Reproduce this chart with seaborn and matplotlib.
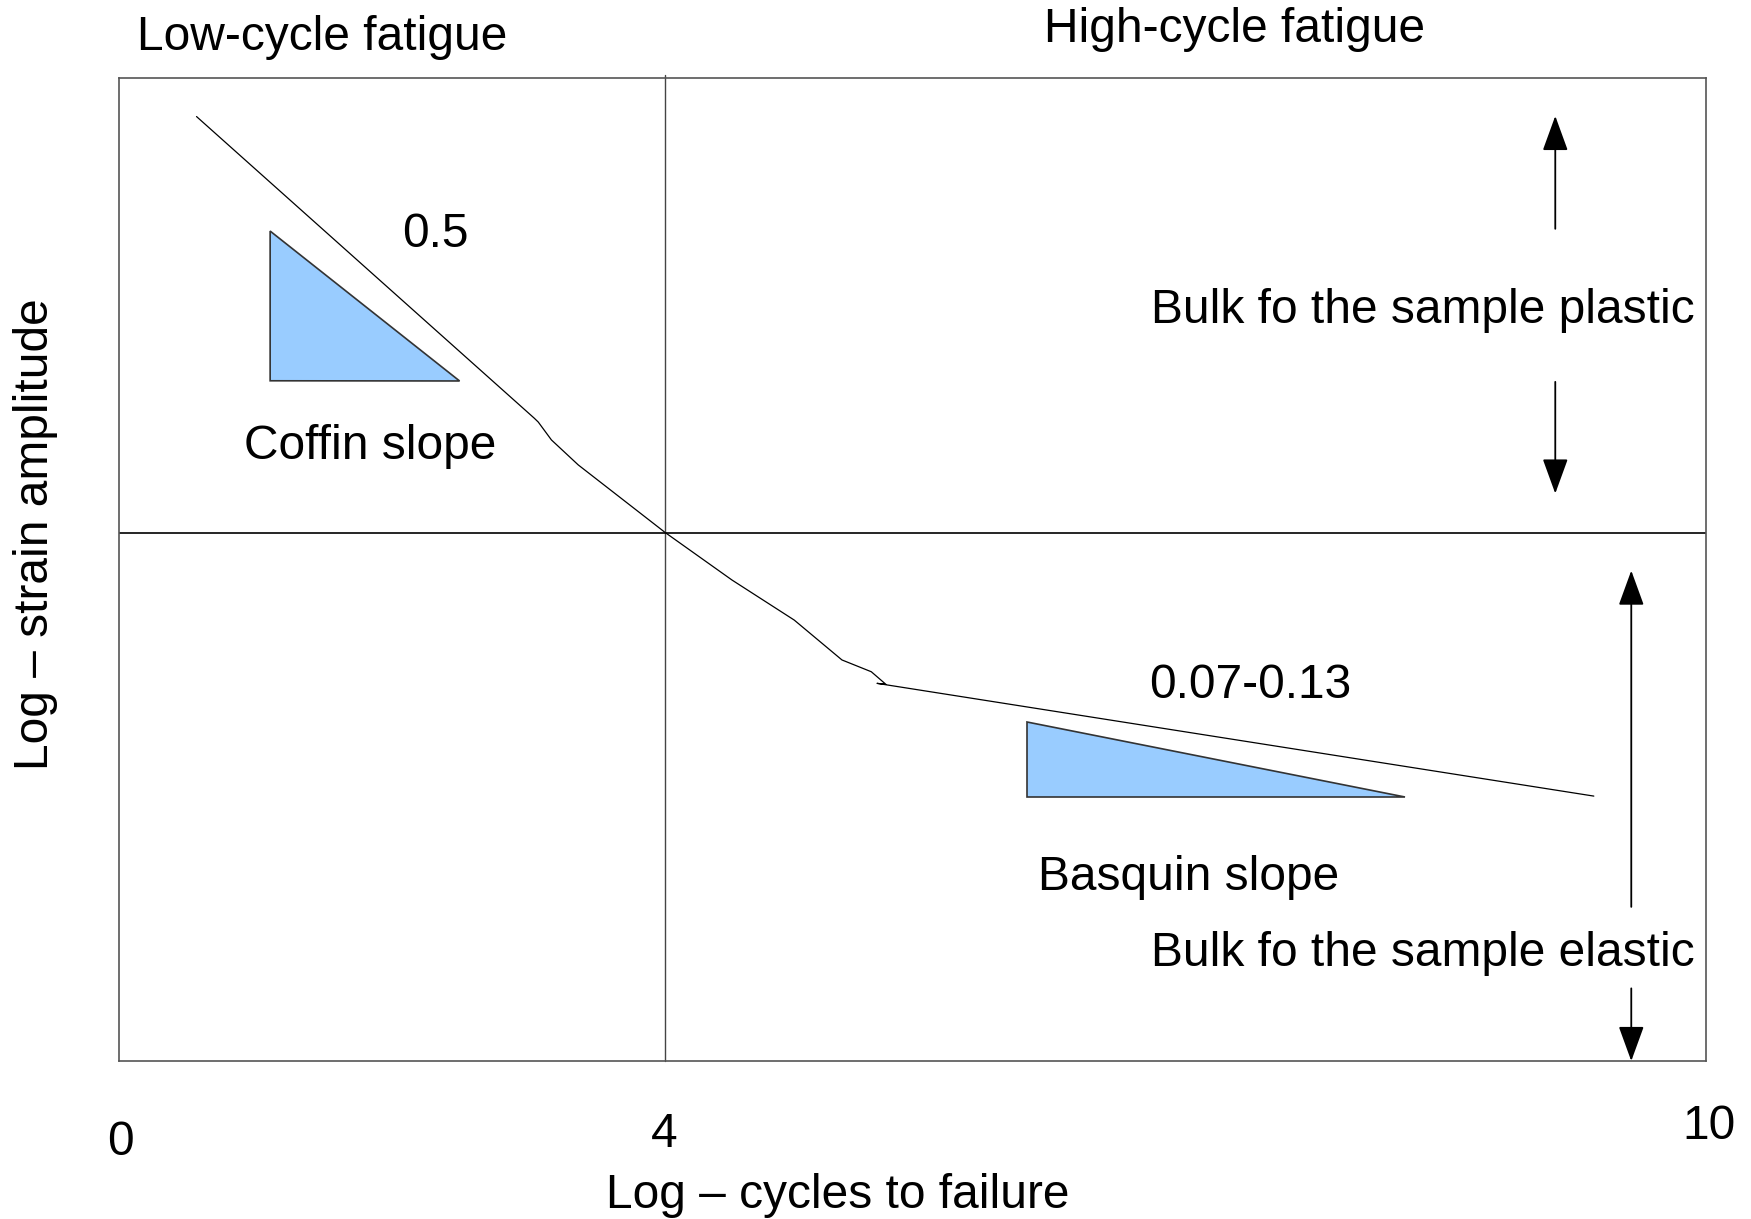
import matplotlib
matplotlib.use("Agg")
import matplotlib.pyplot as plt
import seaborn as sns
import pandas as pd
import numpy as np

# ---- data (schematic diagram, axis units 0..10 across the frame) ----
curve_x = [0.486, 2.615, 2.640, 2.723, 2.892, 3.441, 3.861, 4.253, 4.554, 4.739, 4.831, 4.775, 9.293]
curve_y = [9.608, 6.539, 6.500, 6.318, 6.064, 5.375, 4.893, 4.486, 4.080, 3.960, 3.832, 3.842, 2.695]

coffin_x = [0.950, 0.950, 2.144]
coffin_y = [8.443, 6.920, 6.918]
basquin_x = [5.719, 5.719, 8.100]
basquin_y = [3.451, 2.689, 2.689]

divider_x = 3.441   # transition life (tick label "4")
divider_y = 5.375

tick_labels = ["0", "4", "10"]
tick_pos_x = [0.007, 3.434, 10.02]
tick_pos_y = [-0.83, -0.75, -0.67]

region_labels = ["Low-cycle fatigue", "High-cycle fatigue"]
slope_values = ["0.5", "0.07-0.13"]
slope_names = ["Coffin slope", "Basquin slope"]
bulk_labels = ["Bulk fo the sample plastic", "Bulk fo the sample elastic"]
x_title = "Log \u2013 cycles to failure"
y_title = "Log \u2013 strain amplitude"

# arrows: (x, tail_y, tip_y)
arrow_x = [9.050, 9.050, 9.529, 9.529]
arrow_tail = [8.466, 6.909, 1.568, 0.739]
arrow_tip = [9.614, 5.773, 4.989, 0.0]

sns.set_theme(style="white")
plt.rcParams['font.family'] = ['Liberation Sans', 'DejaVu Sans']
plt.rcParams['text.color'] = 'black'

fig = plt.figure(figsize=(17.51, 12.19), dpi=100)
ax = fig.add_axes([0.0682, 0.1296, 0.9061, 0.8064])
ax.set_xlim(0, 10)
ax.set_ylim(0, 10)
ax.set_xticks([])
ax.set_yticks([])
for s in ax.spines.values():
    s.set_color('#555555')
    s.set_linewidth(1.2)

df = pd.DataFrame({"x": curve_x, "y": curve_y})
sns.lineplot(data=df, x="x", y="y", sort=False, estimator=None, color="black", lw=0.9, ax=ax)
ax.set_xlabel("")
ax.set_ylabel("")

ax.axvline(divider_x, ymin=0, ymax=1.003, color='#444444', lw=1.0, clip_on=False)
ax.axhline(divider_y, color='black', lw=1.2)

ax.fill(coffin_x, coffin_y, facecolor='#99ccff', edgecolor='#333333', lw=1.2)
ax.fill(basquin_x, basquin_y, facecolor='#99ccff', edgecolor='#333333', lw=1.2)

fs = 34.5
ax.text(1.281, 10.41, region_labels[0], ha='center', va='center', fontsize=fs, clip_on=False)
ax.text(7.030, 10.49, region_labels[1], ha='center', va='center', fontsize=fs, clip_on=False)
ax.text(1.992, 8.41, slope_values[0], ha='center', va='center', fontsize=fs)
ax.text(1.583, 6.25, slope_names[0], ha='center', va='center', fontsize=fs)
ax.text(7.129, 3.82, slope_values[1], ha='center', va='center', fontsize=fs)
ax.text(6.742, 1.865, slope_names[1], ha='center', va='center', fontsize=fs)
ax.text(9.930, 7.635, bulk_labels[0], ha='right', va='center', fontsize=fs)
ax.text(9.930, 1.09, bulk_labels[1], ha='right', va='center', fontsize=fs)

for lab, tx, ty in zip(tick_labels, tick_pos_x, tick_pos_y):
    ax.text(tx, ty, lab, ha='center', va='center', fontsize=fs, clip_on=False)

ax.text(4.525, -1.365, x_title, ha='center', va='center', fontsize=fs, clip_on=False)
ax.text(-0.528, 5.364, y_title, ha='center', va='center', rotation=90, fontsize=fs, clip_on=False)

for axx, t0, t1 in zip(arrow_x, arrow_tail, arrow_tip):
    ax.annotate("", xy=(axx, t1), xytext=(axx, t0),
                arrowprops=dict(arrowstyle="-|>,head_length=1.1,head_width=0.4",
                                mutation_scale=20, color='black', lw=1.3,
                                shrinkA=0, shrinkB=0),
                annotation_clip=False)

fig.savefig("out.png", dpi=100, facecolor='white')
